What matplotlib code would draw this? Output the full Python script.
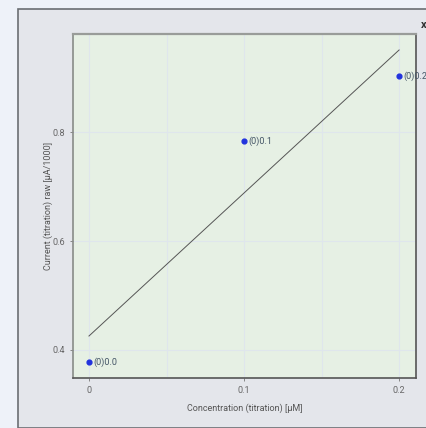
import matplotlib.pyplot as plt
from matplotlib.patches import Rectangle
import numpy as np

plt.rcParams['font.family'] = ['Roboto', 'DejaVu Sans']

# titration points
conc = [0.0, 0.1, 0.2]
current = [0.378, 0.7835, 0.903]
labels = ["(0)0.0", "(0)0.1", "(0)0.2"]

x_ticks = [0, 0.1, 0.2]
x_grid = [0, 0.05, 0.1, 0.15, 0.2]
y_ticks = [0.4, 0.6, 0.8]

fig = plt.figure(figsize=(4.26, 4.28), dpi=100)
fig.patch.set_facecolor('#eef2f9')

# dialog panel behind the chart
panel = Rectangle((18/426, 0), 1.0, 1 - 9/428, transform=fig.transFigure,
                  facecolor='#e4e6eb', edgecolor='#6b6e73', linewidth=1.2,
                  zorder=-5)
fig.patches.append(panel)
fig.text(424/426, 1 - 25/428, "x", fontsize=8, fontweight='bold',
         color='#333333', ha='center', va='center')

ax = fig.add_axes([73/426, 1 - 378/428, 343/426, 344/428])
ax.set_zorder(2)
ax.set_facecolor('#e6f0e4')
ax.set_xlim(-0.0103, 0.2109)
ax.set_ylim(0.3486, 0.980)

for g in x_grid:
    ax.axvline(g, color='#dfe6ec', linewidth=0.8, zorder=0)
for g in y_ticks:
    ax.axhline(g, color='#dfe6ec', linewidth=0.8, zorder=0)

# linear fit through the points
k, b = np.polyfit(conc, current, 1)
xs = np.array([conc[0], conc[-1]])
ax.plot(xs, k * xs + b, color='#555555', linewidth=0.7, zorder=2)

ax.scatter(conc, current, s=12, color='#2233dd', zorder=3)
for x, y, t in zip(conc, current, labels):
    ax.annotate(t, (x, y), xytext=(3, 0), textcoords='offset points',
                fontsize=6.5, color='#445566', va='center', clip_on=False)

ax.set_xticks(x_ticks)
ax.set_xticklabels(["0", "0.1", "0.2"])
ax.set_yticks(y_ticks)
ax.set_yticklabels(["0.4", "0.6", "0.8"])
ax.tick_params(labelsize=6.5, colors='#777777', length=2.5, width=0.6,
               labelcolor='#666666', pad=3)

ax.set_xlabel("Concentration (titration) [µM]", fontsize=6.5, color='#555555',
              va='center')
ax.set_ylabel("Current (titration) raw [µA/1000]", fontsize=6.5,
              color='#555555', va='center')
ax.xaxis.set_label_coords(0.5, -0.088)
ax.yaxis.set_label_coords(-0.073, 0.5)

ax.spines['left'].set_color('#888c88')
ax.spines['top'].set_color('#999c99')
ax.spines['top'].set_linewidth(1.6)
ax.spines['right'].set_color('#555555')
ax.spines['bottom'].set_color('#555555')
for s in ['left', 'right', 'bottom']:
    ax.spines[s].set_linewidth(1.2)

fig.savefig("out.png", dpi=100)
